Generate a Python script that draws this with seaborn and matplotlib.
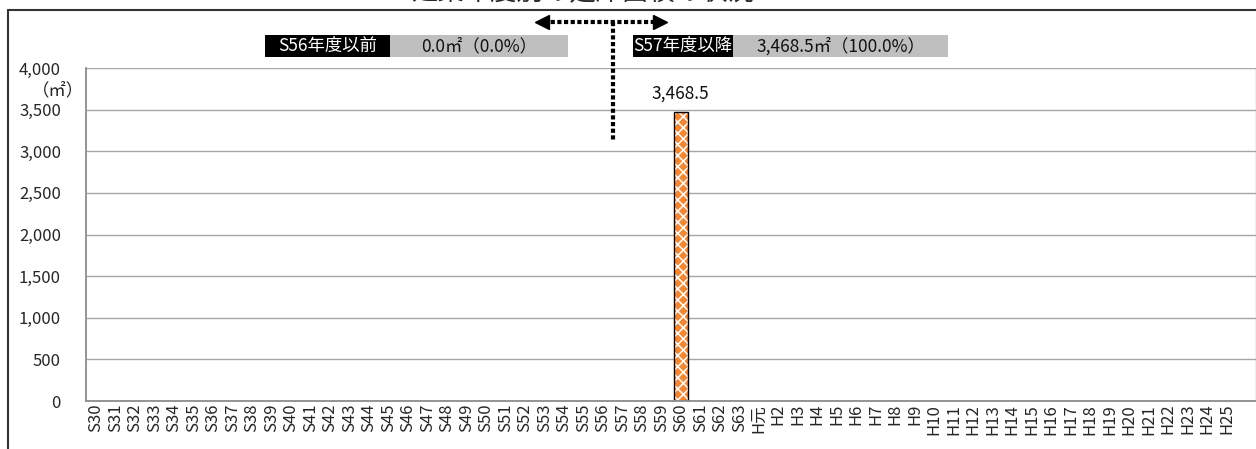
import matplotlib
matplotlib.use("Agg")
import matplotlib.pyplot as plt
import seaborn as sns
import pandas as pd
from matplotlib.patches import Rectangle
from matplotlib.lines import Line2D
from matplotlib.ticker import FuncFormatter
import matplotlib.transforms as mtransforms

# Fiscal-year categories (Showa 30 .. Heisei 25, plus one trailing blank slot)
years = [
    "S30", "S31", "S32", "S33", "S34", "S35", "S36", "S37", "S38", "S39",
    "S40", "S41", "S42", "S43", "S44", "S45", "S46", "S47", "S48", "S49",
    "S50", "S51", "S52", "S53", "S54", "S55", "S56", "S57", "S58", "S59",
    "S60", "S61", "S62", "S63", "H元", "H2", "H3", "H4", "H5", "H6",
    "H7", "H8", "H9", "H10", "H11", "H12", "H13", "H14", "H15", "H16",
    "H17", "H18", "H19", "H20", "H21", "H22", "H23", "H24", "H25", "",
]
# Floor area (m²) built in each fiscal year
area = [
    0, 0, 0, 0, 0, 0, 0, 0, 0, 0,
    0, 0, 0, 0, 0, 0, 0, 0, 0, 0,
    0, 0, 0, 0, 0, 0, 0, 0, 0, 0,
    3468.5, 0, 0, 0, 0, 0, 0, 0, 0, 0,
    0, 0, 0, 0, 0, 0, 0, 0, 0, 0,
    0, 0, 0, 0, 0, 0, 0, 0, 0, 0,
]
# Totals before / after the 1981 seismic code revision
before_label = "S56年度以前"
after_label = "S57年度以降"
before_total = 0.0
after_total = 3468.5
before_share = 0.0
after_share = 100.0
y_ticks = [0, 500, 1000, 1500, 2000, 2500, 3000, 3500, 4000]
title = "建築年度別の延床面積の状況"

sns.set_style("white")
plt.rcParams["font.family"] = ["Noto Sans CJK JP", "DejaVu Sans"]
plt.rcParams["hatch.linewidth"] = 1.1

W, H = 1256, 449
fig = plt.figure(figsize=(W / 100, H / 100), dpi=100)
fig.patch.set_facecolor("white")


def fx(px):
    return px / W


def fy(py):
    return 1 - py / H


ax = fig.add_axes([fx(86), fy(401), fx(1256 - 86), (401 - 68) / H])

df = pd.DataFrame({"year": years, "area": area})
sns.barplot(data=df, x="year", y="area", order=years, color="#F7862F",
            saturation=1, width=0.72, errorbar=None, ax=ax, linewidth=0)

for p in ax.patches:
    p.set_hatch("xxx")
    p.set_edgecolor("white")
    p.set_linewidth(0)
    if p.get_height() > 0:
        ax.add_patch(Rectangle(p.get_xy(), p.get_width(), p.get_height(),
                               fill=False, edgecolor="black", linewidth=1.0,
                               zorder=p.get_zorder() + 0.1))

ax.bar_label(ax.containers[0],
             labels=[f"{v:,.1f}" if v > 0 else "" for v in area],
             padding=7, fontsize=12.5, color="#111111")

ax.set_ylim(y_ticks[0], y_ticks[-1])
ax.set_xlim(-0.5, len(years) - 0.5)
ax.set_yticks(y_ticks)
ax.yaxis.set_major_formatter(FuncFormatter(lambda v, _: f"{v:,.0f}"))
ax.yaxis.grid(True, color="#a6a6a6", linewidth=1.0)
ax.set_axisbelow(True)

# Category labels at bar centres, tick marks on the boundaries
ax.set_xticks([i - 0.5 for i in range(len(years) + 1)])
ax.set_xticklabels([])
ax.set_xticks(range(len(years)), minor=True)
ax.set_xticklabels(years, minor=True, rotation=90, fontsize=12,
                   va="top", ha="center")
ax.tick_params(axis="x", which="major", direction="out", length=5,
               width=1, color="#8c8c8c")
ax.tick_params(axis="x", which="minor", length=0, pad=2)
ax.tick_params(axis="y", direction="out", length=6, width=1,
               color="#8c8c8c", labelsize=12, pad=12)
ax.set_xlabel("")
ax.set_ylabel("")

for side in ("left", "bottom"):
    ax.spines[side].set_color("#8c8c8c")
    ax.spines[side].set_linewidth(1.3)
ax.spines["right"].set_color("#b0b0b0")
ax.spines["right"].set_linewidth(1.0)
ax.spines["top"].set_visible(False)

fig.text(fx(58), fy(90), "（㎡）", ha="center", va="center", fontsize=12.5)

# Summary boxes above the plot
def summary(x0, x1, x2, label, text):
    y0, y1 = 35, 57
    fig.add_artist(Rectangle((fx(x0), fy(y1)), fx(x1 - x0), (y1 - y0) / H,
                             transform=fig.transFigure, color="black", lw=0))
    fig.add_artist(Rectangle((fx(x1), fy(y1)), fx(x2 - x1), (y1 - y0) / H,
                             transform=fig.transFigure, color="#bfbfbf", lw=0))
    fig.text(fx((x0 + x1) / 2), fy((y0 + y1) / 2), label, color="white",
             ha="center", va="center", fontsize=12.5)
    fig.text(fx((x1 + x2) / 2), fy((y0 + y1) / 2), text, color="#111111",
             ha="center", va="center", fontsize=12.5)


summary(265, 390, 568, before_label,
        f"{before_total:,.1f}㎡（{before_share:.1f}%）")
summary(633, 733, 948, after_label,
        f"{after_total:,.1f}㎡（{after_share:.1f}%）")

# Dotted divider between S56 and S57 with a two-way dotted arrow
split = years.index("S57") - 0.5
blend = mtransforms.blended_transform_factory(ax.transData, fig.transFigure)
dots = (0, (1, 0.6))
ax.add_line(Line2D([split, split], [fy(22), fy(142)], transform=blend,
                   color="black", lw=3, linestyle=dots, clip_on=False))
fig.add_artist(Line2D([fx(544), fx(658)], [fy(22), fy(22)],
                      transform=fig.transFigure, color="black", lw=3,
                      linestyle=dots))
fig.add_artist(Line2D([fx(542)], [fy(22)], transform=fig.transFigure,
                      marker="<", markersize=10, color="black", lw=0))
fig.add_artist(Line2D([fx(660)], [fy(22)], transform=fig.transFigure,
                      marker=">", markersize=10, color="black", lw=0))

# Title (running off the top of the canvas) and outer frame
fig.text(fx(583), fy(-7), title, ha="center", va="center", fontsize=19)
fig.add_artist(Line2D([fx(8), fx(1256)], [fy(10), fy(10)],
                      transform=fig.transFigure, color="#333333", lw=1.5))
fig.add_artist(Line2D([fx(8), fx(8)], [fy(10), fy(449)],
                      transform=fig.transFigure, color="#333333", lw=1.5))

fig.savefig("out.png", dpi=100)
